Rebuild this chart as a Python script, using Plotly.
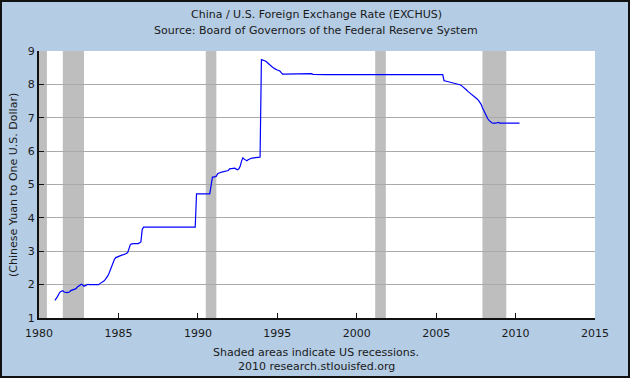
import plotly.graph_objects as go

# ---- data ----
dates = [
    "1981-01", "1981-02", "1981-03", "1981-04", "1981-05", "1981-06", "1981-07", "1981-08",
    "1981-09", "1981-10", "1981-11", "1981-12",
    "1982-01", "1982-02", "1982-03", "1982-04", "1982-05", "1982-06", "1982-07", "1982-08",
    "1982-09", "1982-10", "1982-11", "1982-12",
    "1983-01", "1983-02", "1983-03", "1983-04", "1983-05", "1983-06", "1983-07", "1983-08",
    "1983-09", "1983-10", "1983-11", "1983-12",
    "1984-01", "1984-02", "1984-03", "1984-04", "1984-05", "1984-06", "1984-07", "1984-08",
    "1984-09", "1984-10", "1984-11", "1984-12",
    "1985-01", "1985-02", "1985-03", "1985-04", "1985-05", "1985-06", "1985-07", "1985-08",
    "1985-09", "1985-10", "1985-11", "1985-12",
    "1986-01", "1986-04", "1986-05", "1986-06", "1986-07", "1986-08",
    "1989-11", "1989-12",
    "1990-10", "1990-11", "1990-12",
    "1991-01", "1991-02", "1991-03", "1991-04", "1991-05", "1991-06", "1991-07", "1991-08",
    "1991-09", "1991-10", "1991-11", "1991-12",
    "1992-01", "1992-02", "1992-03", "1992-04", "1992-05", "1992-06", "1992-07", "1992-08",
    "1992-09", "1992-10", "1992-11", "1992-12",
    "1993-01", "1993-02", "1993-03", "1993-04", "1993-05", "1993-06", "1993-07", "1993-08",
    "1993-09", "1993-10", "1993-11", "1993-12",
    "1994-01", "1994-02", "1994-03", "1994-04", "1994-05", "1994-06", "1994-07", "1994-08",
    "1994-09", "1994-10", "1994-11", "1994-12",
    "1995-01", "1995-02", "1995-03", "1995-04", "1995-05", "1995-06",
    "1996-12", "1997-01", "1997-02", "1997-03", "1997-04", "1998-01",
    "2005-06", "2005-07", "2005-08", "2005-09", "2005-10", "2005-11", "2005-12",
    "2006-01", "2006-02", "2006-03", "2006-04", "2006-05", "2006-06", "2006-07", "2006-08",
    "2006-09", "2006-10", "2006-11", "2006-12",
    "2007-01", "2007-02", "2007-03", "2007-04", "2007-05", "2007-06", "2007-07", "2007-08",
    "2007-09", "2007-10", "2007-11", "2007-12",
    "2008-01", "2008-02", "2008-03", "2008-04", "2008-05", "2008-06", "2008-07", "2008-08",
    "2008-09", "2008-10", "2008-11", "2008-12",
    "2009-01", "2010-04",
]
yuan_per_usd = [
    1.53, 1.58, 1.64, 1.72, 1.78, 1.80, 1.82, 1.78, 1.76, 1.76, 1.77, 1.78,
    1.82, 1.83, 1.85, 1.85, 1.88, 1.93, 1.95, 1.98, 2.01, 1.99, 1.95, 1.97,
    2.00, 2.01, 2.00, 2.00, 2.00, 2.00, 2.00, 1.99, 1.98, 2.00, 2.03, 2.05,
    2.08, 2.11, 2.15, 2.19, 2.26, 2.35, 2.45, 2.58, 2.68, 2.76, 2.81, 2.83,
    2.85, 2.87, 2.88, 2.89, 2.90, 2.91, 2.93, 2.96, 3.10, 3.20, 3.22, 3.23,
    3.23, 3.23, 3.25, 3.28, 3.65, 3.72,
    3.72, 4.72,
    4.72, 5.03, 5.22,
    5.22, 5.23, 5.25, 5.32, 5.35, 5.36, 5.37, 5.38, 5.39, 5.40, 5.41, 5.42,
    5.47, 5.48, 5.49, 5.50, 5.49, 5.46, 5.44, 5.47, 5.55, 5.70, 5.80, 5.76,
    5.72, 5.71, 5.74, 5.77, 5.78, 5.79, 5.80, 5.80, 5.80, 5.81, 5.81, 5.82,
    8.74, 8.73, 8.71, 8.70, 8.67, 8.63, 8.58, 8.56, 8.53, 8.50, 8.46, 8.45,
    8.43, 8.42, 8.40, 8.35, 8.31, 8.31,
    8.31, 8.32, 8.33, 8.32, 8.30, 8.29,
    8.29, 8.11, 8.10, 8.09, 8.08, 8.08, 8.07,
    8.05, 8.04, 8.03, 8.02, 8.01, 8.00, 7.99, 7.97, 7.94, 7.90, 7.86, 7.83,
    7.79, 7.76, 7.73, 7.70, 7.67, 7.64, 7.60, 7.56, 7.52, 7.47, 7.40, 7.30,
    7.22, 7.12, 7.02, 6.97, 6.92, 6.88, 6.85, 6.84, 6.83, 6.84, 6.85, 6.86,
    6.84, 6.84,
]
recession_starts = ["1980-01-01", "1981-07-01", "1990-07-01", "2001-03-01", "2007-12-01"]
recession_ends = ["1980-07-01", "1982-11-01", "1991-03-01", "2001-11-01", "2009-06-01"]
year_ticks = [1980, 1985, 1990, 1995, 2000, 2005, 2010, 2015]
y_ticks = [1, 2, 3, 4, 5, 6, 7, 8, 9]

title_lines = ["China / U.S. Foreign Exchange Rate (EXCHUS)",
               "Source: Board of Governors of the Federal Reserve System"]
footer_lines = ["Shaded areas indicate US recessions.", "2010 research.stlouisfed.org"]
y_title = "(Chinese Yuan to One U.S. Dollar)"

# ---- layout geometry (pixels) ----
W, H = 630, 378
L, R, T, B = 39, 35, 51, 60
PW, PH = W - L - R, H - T - B


def px_x(x):
    return (x - L) / PW


def px_y(y):
    return (H - B - y) / PH


FONT = "DejaVu Sans, Verdana, sans-serif"
BG = "#B4CCE4"
TXT = "#1a1a1a"

fig = go.Figure()
fig.add_trace(go.Scatter(
    x=[d + "-01" for d in dates], y=yuan_per_usd, mode="lines",
    line=dict(color="#0000FF", width=1.2), hoverinfo="x+y", showlegend=False,
))

shapes = []
for s, e in zip(recession_starts, recession_ends):
    shapes.append(dict(type="rect", xref="x", yref="paper", x0=s, x1=e, y0=0, y1=1,
                       fillcolor="#BEBEBE", line=dict(width=0), layer="between"))
# outer frame
shapes.append(dict(type="rect", xref="paper", yref="paper",
                   x0=px_x(1), x1=px_x(W - 1), y0=px_y(H - 1), y1=px_y(1),
                   line=dict(color="#111111", width=2), fillcolor="rgba(0,0,0,0)",
                   layer="above"))

annotations = []
for i, t in enumerate(title_lines):
    annotations.append(dict(text=t, xref="paper", yref="paper", x=px_x(316), y=px_y(14 + 16 * i),
                            xanchor="center", yanchor="middle", showarrow=False,
                            font=dict(family=FONT, size=11, color=TXT)))
for i, t in enumerate(footer_lines):
    annotations.append(dict(text=t, xref="paper", yref="paper", x=px_x(316), y=px_y(352 + 14 * i),
                            xanchor="center", yanchor="middle", showarrow=False,
                            font=dict(family=FONT, size=11, color=TXT)))
annotations.append(dict(text=y_title, xref="paper", yref="paper", x=px_x(13), y=px_y(185),
                        xanchor="center", yanchor="middle", showarrow=False, textangle=-90,
                        font=dict(family=FONT, size=11, color=TXT)))

fig.update_layout(
    width=W, height=H,
    margin=dict(l=L, r=R, t=T, b=B, pad=0),
    paper_bgcolor=BG, plot_bgcolor="#FFFFFF",
    font=dict(family=FONT, size=11, color=TXT),
    shapes=shapes, annotations=annotations, showlegend=False,
    xaxis=dict(
        type="date", range=["1980-01-01", "2015-01-01"],
        tickvals=[f"{y}-01-01" for y in year_ticks], ticktext=[str(y) for y in year_ticks],
        ticks="inside", ticklen=5, tickcolor="#111111", tickwidth=1,
        showline=True, linecolor="#111111", linewidth=2,
        showgrid=False, zeroline=False, fixedrange=True,
        ticklabelstandoff=4,
        tickfont=dict(family=FONT, size=11, color=TXT),
    ),
    yaxis=dict(
        range=[1, 9], tickvals=y_ticks, ticktext=[str(v) for v in y_ticks],
        ticks="inside", ticklen=5, tickcolor="#111111", tickwidth=1,
        showline=True, linecolor="#111111", linewidth=2,
        showgrid=True, gridcolor="#AAAAAA", gridwidth=1,
        zeroline=False, fixedrange=True,
        tickfont=dict(family=FONT, size=11, color=TXT),
    ),
)

fig.write_html(
    "out.html",
    config={"displayModeBar": False},
    post_script="document.body.style.margin='0';document.body.style.padding='0';"
                "document.body.style.overflow='hidden';",
)
